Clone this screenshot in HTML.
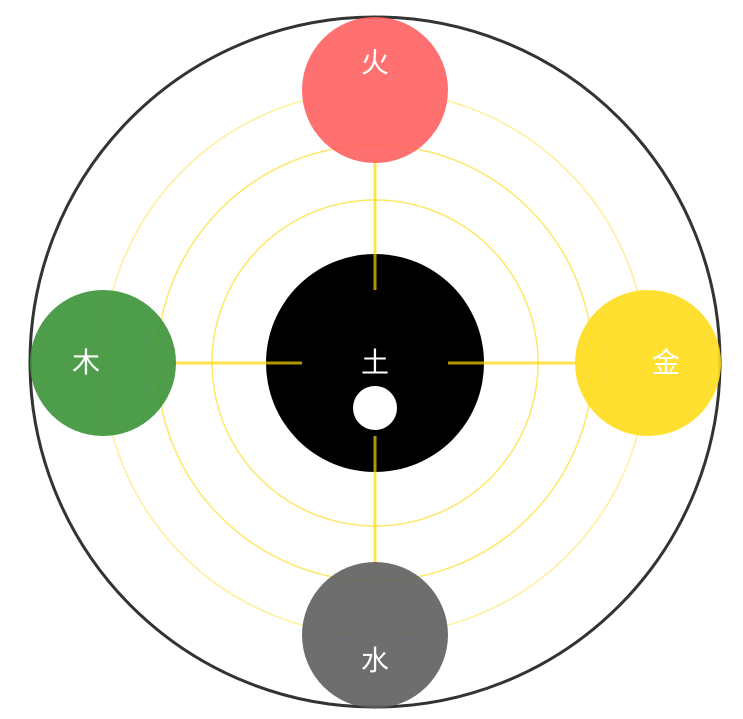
<!DOCTYPE html>
<html><head><meta charset="utf-8"><style>html,body{margin:0;padding:0;background:#fff}</style></head>
<body>
<svg width="743" height="714" viewBox="0 0 743 714" xmlns="http://www.w3.org/2000/svg" font-family="'Liberation Sans','Noto Sans CJK SC',sans-serif">
<circle cx="375" cy="362" r="345" fill="#fff" stroke="#333" stroke-width="3"/>
<g fill="none" stroke="#FFD700" stroke-opacity="0.6" stroke-width="1.5">
<circle cx="375" cy="363" r="163"/>
<circle cx="375" cy="363" r="218"/>
<circle cx="375" cy="363" r="272" stroke-opacity="0.4"/>
</g>
<circle cx="375" cy="363" r="109" fill="#000"/>
<g stroke="#FFD700" stroke-opacity="0.7" stroke-width="3">
<line x1="375" y1="160" x2="375" y2="290"/>
<line x1="375" y1="436" x2="375" y2="566"/>
<line x1="173" y1="363" x2="302" y2="363"/>
<line x1="448" y1="363" x2="578" y2="363"/>
</g>
<circle cx="375" cy="408" r="22" fill="#fff"/>
<g opacity="0.9">
<circle cx="375" cy="90" r="73" fill="#FF6161"/>
<circle cx="103" cy="363" r="73" fill="#3A9236"/>
<circle cx="648" cy="363" r="73" fill="#FFDD1A"/>
<circle cx="375" cy="635" r="73" fill="#5E5E5E"/>
</g>
<g fill="#fff" font-size="28" text-anchor="middle">
<text x="375" y="72">火</text>
<text x="86" y="372">木</text>
<text x="666" y="372">金</text>
<text x="375" y="670">水</text>
<text x="375" y="372">土</text>
</g>
</svg>
</body></html>
